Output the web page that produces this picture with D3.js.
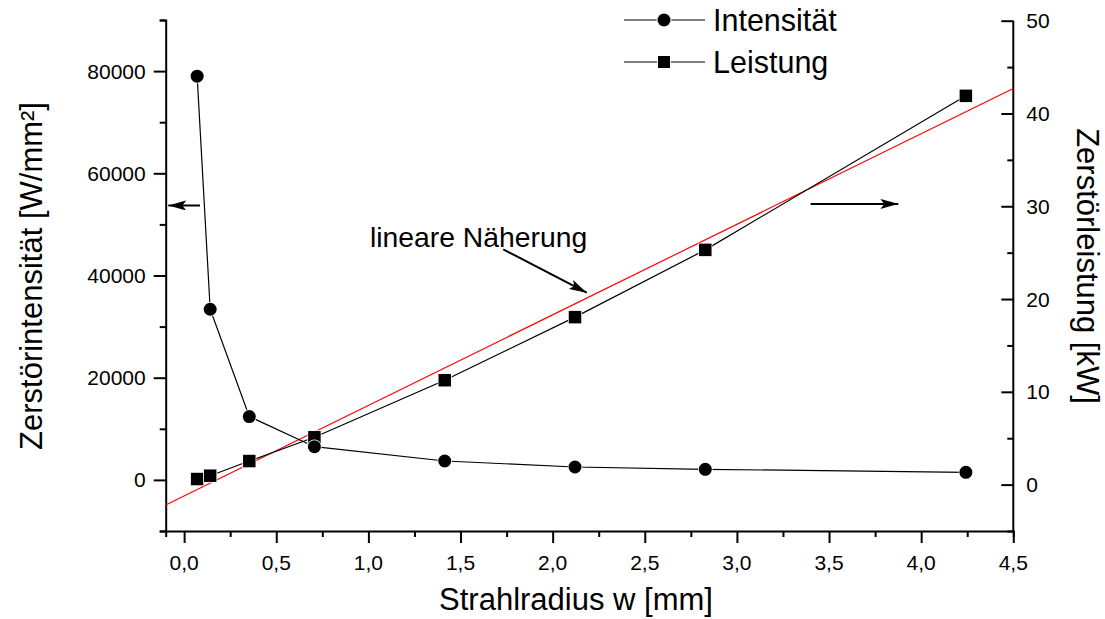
<!DOCTYPE html>
<html>
<head>
<meta charset="utf-8">
<script src="https://cdn.jsdelivr.net/npm/d3@7"></script>
<style>
  body { margin: 0; background: #fff; }
  svg { display: block; font-family: "Liberation Sans", Arial, sans-serif; }
</style>
</head>
<body>
<script>
// data
const radius    = [0.0707, 0.1414, 0.3536, 0.7071, 1.4142, 2.1213, 2.8284, 4.2426]; // mm
const intensity = [79000, 33400, 12400, 6500, 3700, 2520, 2070, 1490];              // W/mm²
const power     = [0.6, 0.96, 2.54, 5.1, 11.25, 18.05, 25.3, 41.9];                  // kW
// linear fit (red), end points
const fitX = [-0.1, 4.5];
const fitY = [-2.2, 42.7];

const xTicks = [0, 0.5, 1, 1.5, 2, 2.5, 3, 3.5, 4, 4.5];
const yLeftTicks = [0, 20000, 40000, 60000, 80000];
const yRightTicks = [0, 10, 20, 30, 40, 50];

const W = 1105, H = 619;
const svg = d3.select("body").append("svg").attr("width", W).attr("height", H);

const x = d3.scaleLinear().domain([-0.1, 4.5]).range([165.7, 1013.3]);
const yL = d3.scaleLinear().domain([-10000, 90000]).range([531, 20]);
const yR = d3.scaleLinear().domain([-5, 50]).range([531, 20.7]);

const fmt = d => d3.format(".1f")(d).replace(".", ",");

// bottom axis
const gx = svg.append("g").attr("transform", `translate(0,${yL.range()[0]})`);
gx.call(d3.axisBottom(x).tickValues(d3.range(-0.25, 4.51, 0.25).filter(v => v >= -0.1)).tickSize(6).tickFormat(""));
gx.call(g => g.selectAll(".tick").filter(d => xTicks.some(t => Math.abs(t - d) < 1e-6)).select("line").attr("y2", 12));
gx.append("g").selectAll("text").data(xTicks).join("text")
  .attr("x", d => x(d)).attr("y", 38.5).attr("text-anchor", "middle")
  .style("font-size", "21px").attr("fill", "#000").text(fmt);

// left axis
const gl = svg.append("g").attr("transform", `translate(${x.range()[0]},0)`);
gl.call(d3.axisLeft(yL).tickValues(d3.range(-10000, 90001, 10000)).tickSize(6).tickFormat(""));
gl.call(g => g.selectAll(".tick").filter(d => yLeftTicks.includes(d)).select("line").attr("x2", -12));
gl.append("g").selectAll("text").data(yLeftTicks).join("text")
  .attr("x", -20).attr("y", d => yL(d)).attr("dy", "0.36em").attr("text-anchor", "end")
  .style("font-size", "21px").attr("fill", "#000").text(d => d);

// right axis (ticks pointing inward)
const gr = svg.append("g").attr("transform", `translate(${x.range()[1]},0)`);
gr.call(d3.axisRight(yR).tickValues(d3.range(-5, 50.1, 5)).tickSize(-6).tickFormat(""));
gr.call(g => g.selectAll(".tick").filter(d => yRightTicks.includes(d)).select("line").attr("x2", -12));
gr.append("g").selectAll("text").data(yRightTicks).join("text")
  .attr("x", 13).attr("y", d => yR(d)).attr("dy", "0.36em").attr("text-anchor", "start")
  .style("font-size", "21px").attr("fill", "#000").text(d => d);

// right axis line spans the same height as the left one
gr.select(".domain").attr("d", `M0,${yR.range()[1]}V${yR.range()[0]}`);

svg.selectAll(".domain").attr("stroke", "#000").attr("stroke-width", 2);
svg.selectAll(".tick line").attr("stroke", "#000").attr("stroke-width", 2);

// axis titles
svg.append("text").attr("x", 576).attr("y", 610).attr("text-anchor", "middle")
  .style("font-size", "31px").text("Strahlradius w [mm]");
svg.append("text").attr("transform", "translate(42,276) rotate(-90)").attr("text-anchor", "middle")
  .style("font-size", "31px").text("Zerstörintensität [W/mm²]");
svg.append("text").attr("transform", "translate(1077,266) rotate(90)").attr("text-anchor", "middle")
  .style("font-size", "31px").text("Zerstörleistung [kW]");

// fit line
svg.append("line")
  .attr("x1", x(fitX[0])).attr("y1", yR(fitY[0]))
  .attr("x2", x(fitX[1])).attr("y2", yR(fitY[1]))
  .attr("stroke", "#ff0000").attr("stroke-width", 1.2);

// series
const ptsI = radius.map((r, i) => [r, intensity[i]]);
const ptsP = radius.map((r, i) => [r, power[i]]);

svg.append("path").attr("d", d3.line().x(d => x(d[0])).y(d => yL(d[1]))(ptsI))
  .attr("fill", "none").attr("stroke", "#000").attr("stroke-width", 1.2);
svg.append("path").attr("d", d3.line().x(d => x(d[0])).y(d => yR(d[1]))(ptsP))
  .attr("fill", "none").attr("stroke", "#000").attr("stroke-width", 1.2);

const sq = 12.5;
svg.append("g").selectAll("rect").data(ptsP).join("rect")
  .attr("x", d => x(d[0]) - sq / 2).attr("y", d => yR(d[1]) - sq / 2)
  .attr("width", sq).attr("height", sq)
  .attr("fill", "#000").attr("stroke", "#fff").attr("stroke-width", 1.5).attr("paint-order", "stroke");
svg.append("g").selectAll("circle").data(ptsI).join("circle")
  .attr("cx", d => x(d[0])).attr("cy", d => yL(d[1])).attr("r", 6.5)
  .attr("fill", "#000").attr("stroke", "#fff").attr("stroke-width", 1.5).attr("paint-order", "stroke");

// arrows
svg.append("defs").append("marker")
  .attr("id", "arr").attr("viewBox", "0 0 18 10").attr("refX", 18).attr("refY", 5)
  .attr("markerWidth", 18).attr("markerHeight", 10).attr("markerUnits", "userSpaceOnUse")
  .attr("orient", "auto")
  .append("path").attr("d", "M0,0L18,5L0,10L4,5Z").attr("fill", "#000");

function arrow(x1, y1, x2, y2) {
  svg.append("line").attr("x1", x1).attr("y1", y1).attr("x2", x2).attr("y2", y2)
    .attr("stroke", "#000").attr("stroke-width", 2).attr("marker-end", "url(#arr)");
}
arrow(x(0.086), yL(53700), x(-0.086), yL(53700));
arrow(x(3.40), yL(54000), x(3.876), yL(54000));
arrow(x(1.732), yR(25.36), x(2.185), yR(20.68));

svg.append("text").attr("x", x(1.009)).attr("y", yR(25.6))
  .style("font-size", "28.3px").text("lineare Näherung");

// legend
const leg = svg.append("g");
const legItems = [{label: "Intensität", sym: "circle", y: 20}, {label: "Leistung", sym: "square", y: 62}];
legItems.forEach(it => {
  leg.append("line").attr("x1", 624).attr("x2", 705).attr("y1", it.y).attr("y2", it.y)
    .attr("stroke", "#000").attr("stroke-width", 1.2);
  if (it.sym === "circle") {
    leg.append("circle").attr("cx", 664).attr("cy", it.y).attr("r", 6.5)
      .attr("fill", "#000").attr("stroke", "#fff").attr("stroke-width", 2).attr("paint-order", "stroke");
  } else {
    leg.append("rect").attr("x", 664 - 6).attr("y", it.y - 6).attr("width", 12).attr("height", 12)
      .attr("fill", "#000").attr("stroke", "#fff").attr("stroke-width", 2).attr("paint-order", "stroke");
  }
  leg.append("text").attr("x", 713).attr("y", it.y).attr("dy", "0.36em")
    .style("font-size", "30.5px").text(it.label);
});
</script>
</body>
</html>
